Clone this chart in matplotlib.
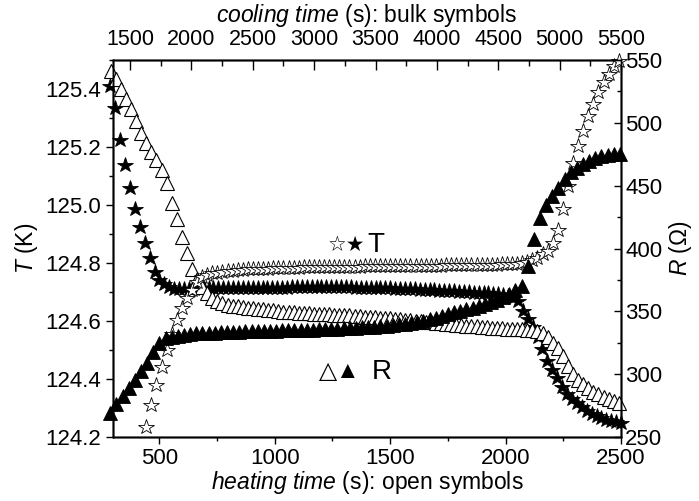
import numpy as np
import matplotlib
matplotlib.use('Agg')
import matplotlib.pyplot as plt
from matplotlib.ticker import MultipleLocator, FormatStrFormatter

plt.rcParams['font.family'] = ['Liberation Sans', 'DejaVu Sans']
plt.rcParams['mathtext.fontset'] = 'custom'
plt.rcParams['mathtext.rm'] = 'Liberation Sans'
plt.rcParams['mathtext.it'] = 'Liberation Sans:italic'

# heating run (open symbols), time in s
heat_time = [290, 312, 334, 356, 378, 400, 422, 444, 466, 488,
             510, 532, 554, 576, 598, 620, 642, 664, 686, 708,
             730, 752, 774, 796, 818, 840, 862, 884, 906, 928,
             950, 972, 994, 1016, 1038, 1060, 1082, 1104, 1126, 1148,
             1170, 1192, 1214, 1236, 1258, 1280, 1302, 1324, 1346, 1368,
             1390, 1412, 1434, 1456, 1478, 1500, 1522, 1544, 1566, 1588,
             1610, 1632, 1654, 1676, 1698, 1720, 1742, 1764, 1786, 1808,
             1830, 1852, 1874, 1896, 1918, 1940, 1962, 1984, 2006, 2028,
             2050, 2072, 2094, 2116, 2138, 2160, 2182, 2204, 2226, 2248,
             2270, 2292, 2314, 2336, 2358, 2380, 2402, 2424, 2446, 2468,
             2490]
# T (K) during heating, below 124.2 K not in view
heat_T = [np.nan, np.nan, np.nan, np.nan, np.nan, np.nan, np.nan, 124.235, 124.312, 124.380,
          124.441, 124.500, 124.555, 124.603, 124.644, 124.678, 124.708, 124.733, 124.752, 124.760,
          124.764, 124.767, 124.770, 124.772, 124.774, 124.776, 124.777, 124.778, 124.779, 124.780,
          124.780, 124.781, 124.782, 124.782, 124.783, 124.783, 124.784, 124.784, 124.785, 124.785,
          124.786, 124.786, 124.786, 124.787, 124.787, 124.787, 124.788, 124.788, 124.788, 124.788,
          124.789, 124.789, 124.789, 124.789, 124.789, 124.790, 124.790, 124.790, 124.790, 124.790,
          124.790, 124.790, 124.791, 124.791, 124.791, 124.791, 124.792, 124.792, 124.792, 124.792,
          124.793, 124.793, 124.793, 124.793, 124.794, 124.794, 124.794, 124.795, 124.795, 124.796,
          124.797, 124.800, 124.804, 124.809, 124.817, 124.830, 124.842, 124.868, 124.915, 124.985,
          125.065, 125.145, 125.205, 125.255, 125.308, 125.350, 125.390, 125.423, 125.453, 125.478,
          125.498]
# R (Ohm) during heating
heat_R = [541.4, 534.8, 527.3, 518.8, 510.8, 501.5, 491.8, 484.0, 477.0, 470.2,
          462.5, 452.0, 436.0, 423.5, 409.0, 396.5, 384.0, 376.0, 369.5, 364.3,
          360.6, 358.2, 356.6, 355.4, 354.6, 353.9, 353.4, 352.9, 352.5, 352.1,
          351.7, 351.2, 350.7, 350.2, 349.8, 349.4, 349.1, 348.8, 348.6, 348.4,
          348.2, 348.0, 347.8, 347.6, 347.4, 347.2, 347.0, 346.8, 346.5, 346.2,
          345.9, 345.6, 345.3, 345.0, 344.7, 344.4, 344.0, 343.6, 343.2, 342.8,
          342.4, 342.0, 341.6, 341.2, 340.8, 340.4, 340.0, 339.6, 339.2, 338.9,
          338.6, 338.3, 338.0, 337.7, 337.4, 337.1, 336.8, 336.5, 336.2, 336.0,
          335.8, 335.6, 335.4, 335.1, 334.6, 333.0, 329.5, 325.0, 320.5, 314.5,
          306.5, 300.0, 295.5, 291.8, 288.8, 286.2, 284.0, 282.2, 280.4, 278.6,
          276.8]

# cooling run (bulk symbols), T sampled in s
cool_time_T = [1340, 1380, 1420, 1460, 1500, 1540, 1580, 1620, 1660, 1700,
               1740, 1780, 1820, 1860, 1900, 1940, 1980, 2020, 2060, 2100,
               2140, 2180, 2220, 2260, 2300, 2340, 2380, 2420, 2460, 2500,
               2540, 2580, 2620, 2660, 2700, 2740, 2780, 2820, 2860, 2900,
               2940, 2980, 3020, 3060, 3100, 3140, 3180, 3220, 3260, 3300,
               3340, 3380, 3420, 3460, 3500, 3540, 3580, 3620, 3660, 3700,
               3740, 3780, 3820, 3860, 3900, 3940, 3980, 4020, 4060, 4100,
               4140, 4180, 4220, 4260, 4300, 4340, 4380, 4420, 4460, 4500,
               4540, 4580, 4620, 4660, 4700, 4740, 4780, 4820, 4860, 4900,
               4940, 4980, 5020, 5060, 5100, 5140, 5180, 5220, 5260, 5300,
               5340, 5380, 5420, 5460, 5500]
cool_T = [125.412, 125.335, 125.225, 125.138, 125.058, 124.985, 124.923, 124.869, 124.818, 124.768,
          124.743, 124.726, 124.716, 124.712, 124.711, 124.711, 124.712, 124.712, 124.712, 124.713,
          124.713, 124.713, 124.713, 124.713, 124.714, 124.714, 124.714, 124.714, 124.714, 124.714,
          124.715, 124.715, 124.715, 124.715, 124.715, 124.715, 124.715, 124.716, 124.716, 124.716,
          124.716, 124.716, 124.716, 124.716, 124.716, 124.716, 124.716, 124.716, 124.716, 124.716,
          124.715, 124.715, 124.715, 124.715, 124.714, 124.714, 124.713, 124.713, 124.712, 124.712,
          124.711, 124.710, 124.709, 124.708, 124.707, 124.706, 124.706, 124.705, 124.704, 124.703,
          124.702, 124.701, 124.700, 124.699, 124.698, 124.697, 124.696, 124.695, 124.694, 124.693,
          124.691, 124.687, 124.680, 124.668, 124.635, 124.606, 124.580, 124.545, 124.503, 124.463,
          124.430, 124.402, 124.374, 124.350, 124.332, 124.317, 124.304, 124.291, 124.281, 124.272,
          124.266, 124.260, 124.255, 124.251, 124.248]

# cooling run, R sampled in s
cool_time_R = [1340, 1390, 1440, 1490, 1540, 1590, 1640, 1690, 1740, 1790,
               1840, 1890, 1940, 1990, 2040, 2090, 2140, 2190, 2240, 2290,
               2340, 2390, 2440, 2490, 2540, 2590, 2640, 2690, 2740, 2790,
               2840, 2890, 2940, 2990, 3040, 3090, 3140, 3190, 3240, 3290,
               3340, 3390, 3440, 3490, 3540, 3590, 3640, 3690, 3740, 3790,
               3840, 3890, 3940, 3990, 4040, 4090, 4140, 4190, 4240, 4290,
               4340, 4390, 4440, 4490, 4540, 4590, 4640, 4690, 4740, 4790,
               4840, 4890, 4940, 4990, 5040, 5090, 5140, 5190, 5240, 5290,
               5340, 5390, 5440, 5490]
cool_R = [269.5, 276.5, 283.0, 289.2, 295.3, 302.5, 309.3, 317.5, 325.0, 328.6,
          329.8, 330.7, 331.3, 331.9, 332.4, 332.7, 332.9, 333.1, 333.3, 333.5,
          333.7, 333.8, 334.0, 334.1, 334.3, 334.4, 334.6, 334.7, 334.8, 334.9,
          335.0, 335.1, 335.3, 335.4, 335.6, 335.8, 336.0, 336.2, 336.4, 336.6,
          336.9, 337.2, 337.5, 337.8, 338.2, 338.6, 339.1, 339.6, 340.2, 340.9,
          341.7, 342.6, 343.6, 344.8, 346.2, 347.8, 349.3, 350.6, 351.8, 353.0,
          354.3, 355.6, 357.2, 359.2, 361.5, 364.0, 367.0, 370.0, 386.0, 407.5,
          424.0, 434.5, 441.8, 448.5, 455.5, 460.5, 464.0, 467.0, 469.5, 471.7,
          473.3, 474.5, 475.5, 475.0]

fig = plt.figure(figsize=(6.99, 5.01), dpi=100)
ax = fig.add_axes([0.1617, 0.1277, 0.7268, 0.7525])   # heating time / T
ax_r = ax.twinx()                                       # heating time / R
ax_t = ax.twiny()                                       # cooling time / T
ax_tr = ax_t.twinx()                                    # cooling time / R

# stacking: bulk stars, open triangles, open stars, bulk triangles
for a, z in [(ax_t, 1), (ax_r, 2), (ax, 3), (ax_tr, 4)]:
    a.set_zorder(z)
    a.patch.set_visible(False)
ax_t.patch.set_visible(True)
ax_t.patch.set_facecolor('white')

ax_t.plot(cool_time_T, cool_T, ls='none', marker='*', ms=11.5, mfc='black', mec='black',
          mew=0.6, clip_on=False)
ax_r.plot(heat_time, heat_R, ls='none', marker='^', ms=10, mfc='white', mec='black',
          mew=0.8, clip_on=False)
ax.plot(heat_time, heat_T, ls='none', marker='*', ms=11.5, mfc='white', mec='black',
        mew=0.6, clip_on=False)
ax_tr.plot(cool_time_R, cool_R, ls='none', marker='^', ms=10, mfc='black', mec='black',
           mew=0.6, clip_on=False)

ax.set_xlim(300, 2500)
ax.set_ylim(124.2, 125.5)
ax_r.set_ylim(250, 550)
ax_t.set_xlim(1362, 5500)
ax_tr.set_ylim(250, 550)

ax.xaxis.set_major_locator(MultipleLocator(500))
ax.xaxis.set_minor_locator(MultipleLocator(250))
ax.yaxis.set_major_locator(MultipleLocator(0.2))
ax.yaxis.set_minor_locator(MultipleLocator(0.1))
ax.yaxis.set_major_formatter(FormatStrFormatter('%.1f'))
ax_r.yaxis.set_major_locator(MultipleLocator(50))
ax_r.yaxis.set_minor_locator(MultipleLocator(25))
ax_t.xaxis.set_major_locator(MultipleLocator(500))
ax_t.xaxis.set_minor_locator(MultipleLocator(250))

ax.tick_params(axis='both', which='major', direction='out', length=5, width=1, labelsize=16)
ax.tick_params(axis='both', which='minor', direction='out', length=3, width=1)
ax.tick_params(axis='x', pad=3)
ax_r.tick_params(axis='y', which='major', direction='in', length=5, width=1, labelsize=16, pad=3)
ax_r.tick_params(axis='y', which='minor', direction='in', length=3, width=1)
ax_t.tick_params(axis='x', which='major', direction='in', length=7, width=1, labelsize=15.5, pad=7)
ax_t.tick_params(axis='x', which='minor', direction='in', length=4, width=1)
ax_t.tick_params(axis='y', left=False, labelleft=False, which='both')
ax_tr.tick_params(axis='y', right=False, labelright=False, which='both')
ax_tr.tick_params(axis='x', top=False, labeltop=False, which='both')

for a in (ax, ax_r, ax_t, ax_tr):
    for s in a.spines.values():
        s.set_linewidth(1)

ax.set_xlabel(r'$\mathit{heating\ time}$ (s): open symbols', fontsize=16.5, labelpad=0)
ax_t.set_xlabel(r'$\mathit{cooling\ time}$ (s): bulk symbols', fontsize=16.5, labelpad=5)
ax.set_ylabel(r'$\mathit{T}$ (K)', fontsize=16.5, labelpad=4)
ax_r.set_ylabel(r'$\mathit{R}$ ($\Omega$)', fontsize=16.5, labelpad=3)

# in-plot symbol keys
ax.text(0.423, 0.509, '☆★', transform=ax.transAxes, fontsize=15, ha='left', va='center')
ax.text(0.500, 0.509, 'T', transform=ax.transAxes, fontsize=20, ha='left', va='center')
ax.text(0.405, 0.172, '△▲', transform=ax.transAxes, fontsize=17, ha='left', va='center')
ax.text(0.510, 0.172, 'R', transform=ax.transAxes, fontsize=20, ha='left', va='center')

fig.savefig('out.png', dpi=100)
